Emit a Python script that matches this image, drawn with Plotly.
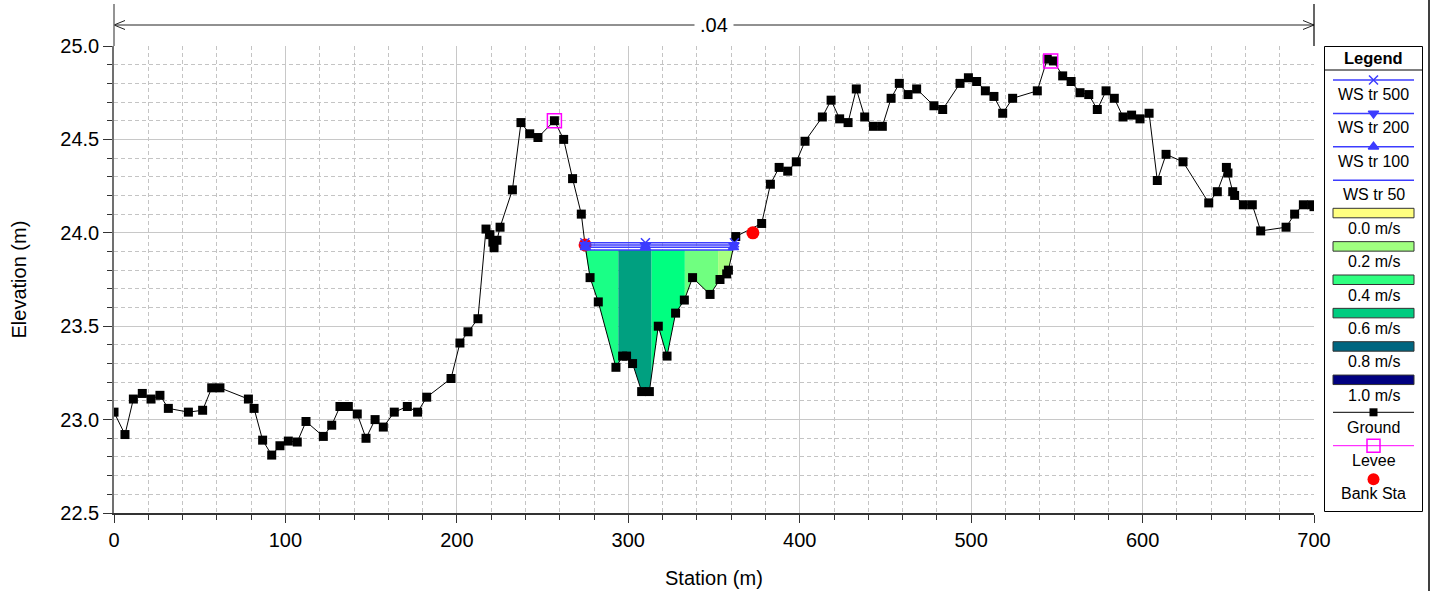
import numpy as np
import plotly.graph_objects as go

# ground profile (station m, elevation m)
station = [0, 6.4, 11.3, 16.5, 21.6, 26.8, 31.7, 43.4, 51.7, 57.0, 61.8, 78.4, 81.7, 86.7,
           92.0, 96.8, 101.7, 106.9, 112.0, 122.1, 127.0, 131.8, 136.7, 141.9, 147.0, 152.3,
           157.1, 163.5, 171.1, 177.1, 182.4, 196.6, 201.8, 206.5, 212.3, 217.0, 219.3, 221.0,
           221.7, 223.4, 225.2, 232.4, 237.4, 242.5, 247.3, 256.9, 262.3, 267.5, 272.6, 274.8,
           277.7, 282.5, 292.8, 296.7, 299.0, 302.5, 307.8, 312.3, 317.5, 322.6, 327.6, 332.7,
           337.5, 347.7, 353.5, 357.4, 358.4, 362.7, 377.8, 382.9, 388.0, 393.0, 398.0, 403.1,
           413.2, 418.3, 423.3, 428.2, 433.0, 437.9, 443.0, 448.2, 453.3, 458.1, 463.2, 468.2,
           478.3, 483.4, 493.5, 498.4, 503.2, 508.3, 513.3, 518.4, 524.2, 538.6, 544.4, 548.0,
           553.4, 558.3, 563.5, 568.6, 573.6, 578.7, 583.5, 588.6, 593.6, 598.5, 603.8, 608.6,
           613.7, 623.6, 638.6, 643.6, 648.9, 649.8, 652.6, 653.7, 658.8, 664.0, 668.9, 683.7,
           688.7, 693.8, 698.7, 700.0]
elevation = [23.04, 22.92, 23.11, 23.14, 23.11, 23.13, 23.06, 23.04, 23.05, 23.17, 23.17, 23.11,
             23.06, 22.89, 22.81, 22.86, 22.885, 22.88, 22.99, 22.91, 22.97, 23.07, 23.07, 23.03,
             22.90, 23.00, 22.96, 23.04, 23.07, 23.04, 23.12, 23.22, 23.41, 23.47, 23.54, 24.02,
             23.99, 23.95, 23.92, 23.96, 24.03, 24.23, 24.59, 24.53, 24.51, 24.60, 24.50, 24.29,
             24.10, 23.935, 23.76, 23.63, 23.28, 23.34, 23.34, 23.30, 23.15, 23.15, 23.50, 23.34,
             23.57, 23.64, 23.76, 23.67, 23.75, 23.78, 23.80, 23.98, 24.05, 24.26, 24.35, 24.33,
             24.38, 24.49, 24.62, 24.71, 24.61, 24.59, 24.77, 24.62, 24.57, 24.57, 24.72, 24.80,
             24.74, 24.77, 24.68, 24.66, 24.80, 24.83, 24.81, 24.76, 24.73, 24.64, 24.72, 24.76,
             24.93, 24.92, 24.84, 24.81, 24.75, 24.74, 24.66, 24.76, 24.72, 24.62, 24.63, 24.61,
             24.64, 24.28, 24.42, 24.38, 24.16, 24.22, 24.35, 24.32, 24.22, 24.20, 24.15, 24.15,
             24.01, 24.03, 24.10, 24.15, 24.15, 24.14]
assert len(station) == len(elevation)

levee_sta = [256.9, 546.4]
levee_elev = [24.60, 24.92]
bank_sta = [274.8, 372.7]
bank_elev = [23.935, 24.00]

ws_names = ["WS tr 500", "WS tr 200", "WS tr 100", "WS tr 50"]
ws_elev = [23.947, 23.935, 23.922, 23.908]
ws_symbols = ["x-thin", "triangle-down", "triangle-up", None]
ws_mid_marker = 310.0

# velocity distribution slices in the channel
vel_edges = [274.8, 294.2, 313.6, 333.0, 352.4, 361.2]
vel_colors = ["#1aff86", "#00a080", "#00ff80", "#70ff80", "#a6ff80"]

legend_vel = ["0.0 m/s", "0.2 m/s", "0.4 m/s", "0.6 m/s", "0.8 m/s", "1.0 m/s"]
legend_vel_colors = ["#ffff80", "#a0ff80", "#30ff80", "#00cc80", "#006680", "#000080"]

n_value = ".04"

W, H = 1431, 591
X0, X1, YT, YB = 114, 1314, 46, 513
FONT = "Liberation Sans, Arial, sans-serif"
WS_COLOR = "rgb(60,60,255)"

sta = np.array(station)
el = np.array(elevation)


def ws_extent(level):
    i_min = int(np.argmin(np.where((sta > bank_sta[0]) & (sta < bank_sta[1]), el, 99)))
    i = i_min
    while el[i] < level:
        i -= 1
    xl = np.interp(level, [el[i + 1], el[i]], [sta[i + 1], sta[i]])
    j = i_min
    while el[j] < level:
        j += 1
    xr = np.interp(level, [el[j - 1], el[j]], [sta[j - 1], sta[j]])
    return xl, xr


fig = go.Figure()

# velocity fill
fill_top = min(ws_elev)
for k, c in enumerate(vel_colors):
    xa, xb = vel_edges[k], vel_edges[k + 1]
    inner = [s for s in station if xa < s < xb]
    gx = [xa] + inner + [xb]
    gy = np.minimum(np.interp(gx, station, elevation), fill_top)
    fig.add_trace(go.Scatter(
        x=[xa, xb] + gx[::-1], y=[fill_top, fill_top] + list(gy[::-1]),
        fill="toself", fillcolor=c, mode="lines", line=dict(width=0),
        hoverinfo="skip", showlegend=False))

# ground
fig.add_trace(go.Scatter(x=station, y=elevation, mode="lines+markers",
                         line=dict(color="black", width=1),
                         marker=dict(symbol="square", size=9, color="black"),
                         name="Ground", showlegend=False))

# bank stations
fig.add_trace(go.Scatter(x=bank_sta, y=bank_elev, mode="markers",
                         marker=dict(symbol="circle", size=13, color="red"),
                         name="Bank Sta", showlegend=False))

# water surfaces
for name, lev, sym in zip(ws_names, ws_elev, ws_symbols):
    xl, xr = ws_extent(lev)
    fig.add_trace(go.Scatter(x=[xl, xr], y=[lev, lev], mode="lines",
                             line=dict(color=WS_COLOR, width=1.5),
                             name=name, showlegend=False))
    if sym:
        fig.add_trace(go.Scatter(x=[xl, ws_mid_marker, xr], y=[lev] * 3, mode="markers",
                                 marker=dict(symbol=sym, size=9, color=WS_COLOR,
                                             line=dict(color=WS_COLOR, width=1.5)),
                                 showlegend=False))

# levees
fig.add_trace(go.Scatter(x=levee_sta, y=levee_elev, mode="markers",
                         marker=dict(symbol="square-open", size=14, color="#ff00ff",
                                     line=dict(width=1.5)),
                         name="Levee", showlegend=False))

# ---- legend drawn in pixel space (x2/y2 overlay) ----
shapes = []
annots = []


def ptext(x, y, t, size=16, bold=False, **kw):
    annots.append(dict(x=x, y=y, xref="x2", yref="y2", text=f"<b>{t}</b>" if bold else t,
                       showarrow=False, font=dict(family=FONT, size=size, color="black"), **kw))


def pline(x0, y0, x1, y1, color="black", width=1):
    shapes.append(dict(type="line", xref="x2", yref="y2", x0=x0, y0=y0, x1=x1, y1=y1,
                       line=dict(color=color, width=width)))


LX0, LX1, LC = 1333, 1414, 1373.5
shapes.append(dict(type="rect", xref="x2", yref="y2", x0=1324.5, y0=46.5, x1=1422.5, y1=511.5,
                   line=dict(color="black", width=1), fillcolor="white", layer="below"))
pline(1324.5, 70, 1422.5, 70)
ptext(LC, 57.5, "Legend", size=16.5, bold=True)

y = 80
for name, sym in zip(ws_names, ws_symbols):
    pline(LX0, y, LX1, y, color=WS_COLOR, width=1.5)
    if sym:
        fig.add_trace(go.Scatter(x=[LC], y=[y], xaxis="x2", yaxis="y2", mode="markers",
                                 marker=dict(symbol=sym, size=9, color=WS_COLOR,
                                             line=dict(color=WS_COLOR, width=1.5)),
                                 showlegend=False, hoverinfo="skip"))
    ptext(LC, y + 14.5, name)
    y += 33.4

y = 208.3
for name, c in zip(legend_vel, legend_vel_colors):
    shapes.append(dict(type="rect", xref="x2", yref="y2", x0=LX0, y0=y, x1=LX1, y1=y + 9.5,
                       fillcolor=c, line=dict(color="#333333", width=1)))
    ptext(LC, y + 20, name)
    y += 33.35

pline(LX0, 412.3, LX1, 412.3)
fig.add_trace(go.Scatter(x=[LC], y=[412.3], xaxis="x2", yaxis="y2", mode="markers",
                         marker=dict(symbol="square", size=8, color="black"),
                         showlegend=False, hoverinfo="skip"))
ptext(LC, 427.7, "Ground")
pline(LX0, 445.7, LX1, 445.7, color="#ff00ff")
fig.add_trace(go.Scatter(x=[LC], y=[445.7], xaxis="x2", yaxis="y2", mode="markers",
                         marker=dict(symbol="square-open", size=13, color="#ff00ff",
                                     line=dict(width=1.5)),
                         showlegend=False, hoverinfo="skip"))
ptext(LC, 460.7, "Levee")
fig.add_trace(go.Scatter(x=[LC], y=[479.3], xaxis="x2", yaxis="y2", mode="markers",
                         marker=dict(symbol="circle", size=12, color="red"),
                         showlegend=False, hoverinfo="skip"))
ptext(LC, 493.3, "Bank Sta")

# Manning's n arrow above the plot
pline(X0, 25, X1, 25, color="#222222")
pline(X0, 25, X0 + 11, 20.5, color="#222222")
pline(X0, 25, X0 + 11, 29.5, color="#222222")
pline(X1, 25, X1 - 11, 20.5, color="#222222")
pline(X1, 25, X1 - 11, 29.5, color="#222222")
ptext((X0 + X1) / 2, 25, n_value, size=20, bgcolor="white", borderpad=5)

# axis line extensions above the grid
pline(X0, 4, X0, YT, color="#707070", width=1.5)
pline(X1, 4, X1, YT, color="black", width=1.2)
# window edge
pline(W - 2, 0, W - 2, H, color="black", width=1.5)

# axis titles
ptext((X0 + X1) / 2, 578, "Station (m)", size=20)
ptext(18, (YT + YB) / 2, "Elevation (m)", size=20, textangle=-90)

grid = "#c8c8c8"
minor_grid = "#c4c4c4"
fig.update_layout(
    width=W, height=H,
    margin=dict(l=0, r=0, t=0, b=0, pad=0, autoexpand=False),
    paper_bgcolor="white", plot_bgcolor="rgba(0,0,0,0)",
    font=dict(family=FONT, size=20, color="black"),
    showlegend=False,
    shapes=shapes, annotations=annots,
    xaxis=dict(domain=[X0 / W, X1 / W], range=[0, 700], dtick=100, tick0=0,
               showgrid=True, gridcolor=grid, gridwidth=1, zeroline=False, automargin=False,
               showline=True, linecolor="#333333", linewidth=1.5,
               ticks="outside", ticklen=8, tickcolor="#333333",
               tickfont=dict(size=20),
               minor=dict(dtick=20, showgrid=True, gridcolor=minor_grid, griddash="4px,3px",
                          ticks="outside", ticklen=5, tickcolor="#333333")),
    yaxis=dict(domain=[(H - YB) / H, (H - YT) / H], range=[22.5, 25.0], dtick=0.5,
               tick0=22.5, tickformat=".1f", automargin=False,
               showgrid=True, gridcolor=grid, gridwidth=1, zeroline=False,
               showline=True, linecolor="#707070", linewidth=1.5,
               ticks="outside", ticklen=9, tickcolor="#333333",
               tickfont=dict(size=20),
               minor=dict(dtick=0.1, showgrid=True, gridcolor=minor_grid, griddash="4px,3px",
                          ticks="outside", ticklen=5, tickcolor="#333333")),
    xaxis2=dict(domain=[0, 1], range=[0, W], visible=False, anchor="y2", fixedrange=True,
                automargin=False),
    yaxis2=dict(domain=[0, 1], range=[H, 0], visible=False, anchor="x2", fixedrange=True,
                automargin=False),
)

fig.write_html("out.html", config={"displayModeBar": False},
               post_script="document.body.style.margin='0';document.body.style.overflow='hidden';")
